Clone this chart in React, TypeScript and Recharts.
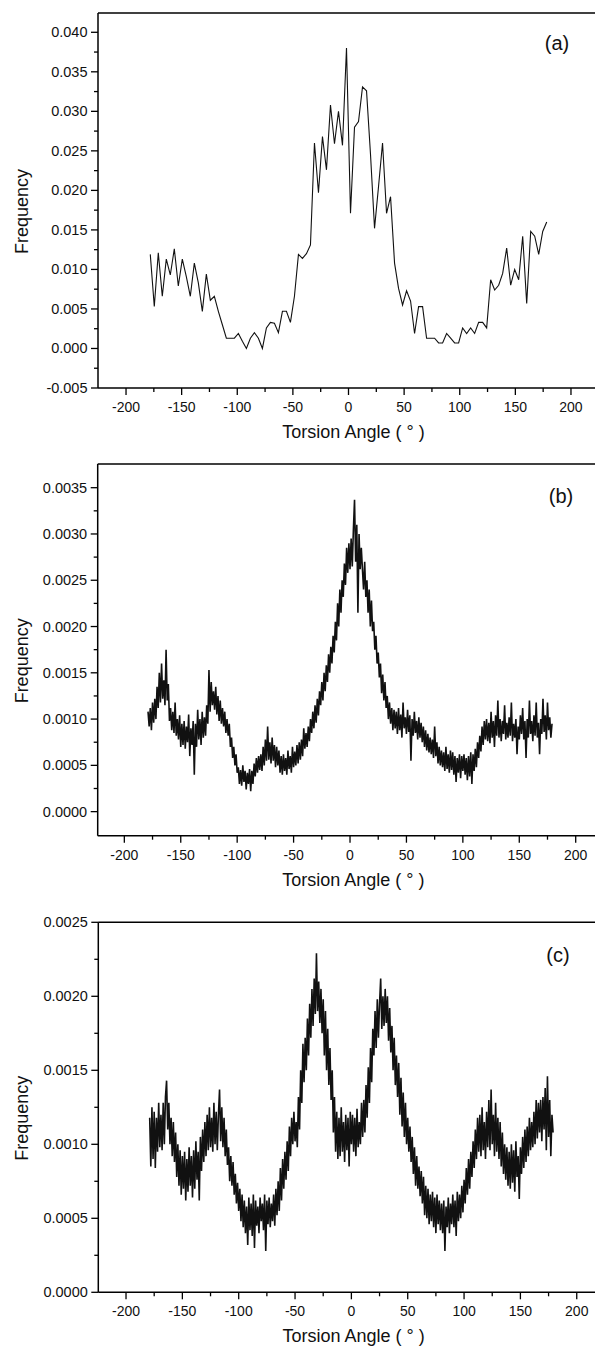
import { LineChart, Line, XAxis, YAxis, ReferenceLine, Label } from 'recharts';

const FONT = '"Liberation Sans", Arial, Helvetica, sans-serif';

// bin centres of the histograms
const bins = (start: number, count: number, step: number) =>
  Array.from({ length: count }, (_, i) => Math.round((start + i * step) * 10) / 10);

const anglesA = bins(-178.2, 100, 3.6);
const anglesBC = bins(-179, 359, 1);

// panel (a), frequency per 3.6 deg bin
const freqA = [
  0.0119, 0.0053, 0.0121, 0.0066, 0.0113, 0.0093, 0.0126, 0.0079, 0.0113, 0.0091,
  0.0066, 0.0108, 0.0083, 0.0047, 0.0094, 0.0061, 0.0066, 0.0047, 0.0030, 0.0013,
  0.0013, 0.0013, 0.0019, 0.0009, 0.0000, 0.0013, 0.0020, 0.0013, 0.0000, 0.0026,
  0.0033, 0.0032, 0.0020, 0.0047, 0.0047, 0.0033, 0.0066, 0.0119, 0.0114, 0.0120,
  0.0131, 0.0260, 0.0197, 0.0268, 0.0226, 0.0308, 0.0259, 0.0300, 0.0257, 0.0380,
  0.0171, 0.0280, 0.0287, 0.0331, 0.0326, 0.0245, 0.0152, 0.0205, 0.0260, 0.0171,
  0.0192, 0.0108, 0.0076, 0.0055, 0.0073, 0.0060, 0.0019, 0.0053, 0.0053, 0.0013,
  0.0013, 0.0013, 0.0007, 0.0007, 0.0019, 0.0013, 0.0007, 0.0007, 0.0026, 0.0019,
  0.0026, 0.0019, 0.0033, 0.0033, 0.0026, 0.0087, 0.0074, 0.0080, 0.0095, 0.0127,
  0.0080, 0.0100, 0.0087, 0.0142, 0.0057, 0.0148, 0.0142, 0.0119, 0.0148, 0.0160,
];

// panel (b), 1 deg bins, in units of 1e-5
const freqB = [
  108, 92, 112, 88, 118, 96, 122, 100, 135, 112,
  150, 118, 160, 122, 142, 115, 175, 120, 138, 98,
  112, 88, 108, 85, 118, 82, 100, 78, 104, 70,
  95, 72, 98, 68, 92, 75, 105, 60, 90, 72,
  98, 40, 95, 70, 110, 78, 100, 72, 108, 80,
  102, 82, 115, 95, 153, 108, 140, 115, 130, 110,
  135, 105, 125, 98, 120, 95, 112, 92, 108, 85,
  100, 82, 95, 70, 80, 58, 70, 50, 62, 42,
  48, 30, 45, 28, 50, 32, 44, 24, 42, 30,
  46, 22, 44, 30, 52, 38, 58, 42, 60, 45,
  62, 44, 70, 50, 78, 55, 92, 56, 75, 52,
  80, 55, 72, 48, 70, 50, 66, 42, 60, 40,
  62, 44, 58, 40, 66, 46, 60, 42, 70, 48,
  65, 50, 72, 52, 75, 56, 78, 60, 90, 68,
  85, 70, 92, 76, 100, 85, 108, 90, 115, 96,
  122, 104, 130, 115, 140, 120, 150, 130, 158, 140,
  170, 150, 178, 160, 190, 172, 205, 185, 225, 200,
  240, 215, 250, 232, 268, 245, 285, 258, 290, 262,
  295, 265, 305, 337, 270, 310, 215, 300, 262, 285,
  262, 240, 270, 232, 250, 215, 240, 200, 228, 195,
  205, 175, 190, 160, 172, 145, 160, 128, 148, 120,
  140, 112, 125, 100, 118, 95, 112, 88, 110, 90,
  108, 84, 112, 88, 105, 80, 118, 90, 102, 84,
  110, 86, 104, 55, 100, 82, 108, 85, 98, 78,
  102, 80, 96, 75, 92, 70, 88, 66, 84, 64,
  80, 62, 78, 58, 92, 60, 75, 52, 70, 50,
  66, 48, 64, 44, 70, 46, 62, 42, 66, 45,
  64, 40, 60, 32, 58, 42, 62, 36, 60, 44,
  62, 40, 58, 34, 60, 38, 64, 30, 62, 44,
  68, 48, 75, 58, 82, 65, 92, 72, 98, 78,
  100, 76, 96, 74, 108, 80, 98, 70, 104, 82,
  120, 80, 100, 76, 98, 84, 115, 78, 96, 80,
  102, 82, 118, 76, 95, 80, 100, 62, 92, 78,
  104, 84, 112, 78, 98, 58, 100, 80, 120, 84,
  98, 76, 104, 82, 118, 80, 96, 62, 100, 84,
  122, 86, 104, 78, 118, 88, 102, 80, 95,
];

// panel (c), 1 deg bins, in units of 1e-5
const freqC = [
  118, 85, 125, 90, 122, 84, 118, 95, 128, 98,
  120, 96, 128, 100, 132, 143, 110, 128, 100, 118,
  92, 115, 88, 108, 78, 100, 72, 96, 66, 92,
  70, 95, 62, 90, 68, 98, 72, 92, 64, 96,
  70, 102, 76, 95, 62, 105, 82, 110, 88, 115,
  92, 120, 96, 125, 98, 118, 95, 128, 100, 122,
  96, 120, 137, 102, 125, 98, 118, 92, 110, 86,
  98, 75, 92, 72, 88, 66, 80, 60, 74, 55,
  70, 48, 66, 44, 62, 40, 58, 32, 64, 42,
  60, 38, 66, 30, 62, 45, 58, 40, 64, 48,
  60, 42, 66, 28, 62, 46, 64, 44, 60, 48,
  66, 45, 70, 52, 75, 55, 84, 62, 90, 70,
  95, 76, 102, 82, 112, 92, 118, 100, 122, 102,
  115, 98, 132, 110, 150, 128, 168, 142, 172, 150,
  185, 160, 195, 172, 205, 180, 212, 188, 229, 190,
  210, 182, 205, 175, 198, 160, 190, 150, 178, 140,
  165, 130, 150, 108, 132, 95, 122, 90, 118, 92,
  125, 95, 115, 88, 120, 96, 118, 85, 122, 100,
  120, 95, 118, 92, 124, 98, 115, 100, 128, 105,
  130, 108, 140, 118, 152, 128, 165, 142, 178, 160,
  190, 165, 198, 172, 195, 212, 178, 200, 180, 205,
  182, 200, 170, 192, 162, 180, 150, 172, 140, 160,
  132, 155, 120, 145, 112, 135, 105, 128, 100, 118,
  95, 112, 88, 105, 80, 98, 72, 92, 70, 85,
  65, 82, 60, 78, 52, 72, 50, 70, 46, 66,
  48, 68, 44, 64, 40, 66, 46, 62, 42, 60,
  40, 62, 28, 58, 44, 64, 40, 60, 46, 66,
  44, 62, 38, 68, 48, 66, 50, 72, 54, 76,
  60, 84, 66, 90, 70, 95, 78, 102, 84, 110,
  90, 118, 95, 120, 92, 125, 96, 115, 90, 122,
  98, 130, 96, 137, 100, 120, 92, 128, 95, 118,
  90, 115, 85, 108, 80, 100, 76, 98, 72, 95,
  70, 100, 74, 96, 68, 102, 78, 92, 63, 98,
  80, 105, 84, 110, 88, 112, 92, 118, 96, 115,
  98, 122, 100, 130, 104, 128, 108, 130, 102, 132,
  110, 138, 96, 146, 105, 130, 92, 120, 108,
];

const xMajor = [-200, -150, -100, -50, 0, 50, 100, 150, 200];
const xMinor = [-175, -125, -75, -25, 25, 75, 125, 175];

const yMajorA = [-0.005, 0, 0.005, 0.01, 0.015, 0.02, 0.025, 0.03, 0.035, 0.04];
const yMinorA = [-0.0025, 0.0025, 0.0075, 0.0125, 0.0175, 0.0225, 0.0275, 0.0325, 0.0375];
const yMajorB = [0, 0.0005, 0.001, 0.0015, 0.002, 0.0025, 0.003, 0.0035];
const yMinorB = [0.00025, 0.00075, 0.00125, 0.00175, 0.00225, 0.00275, 0.00325];
const yMajorC = [0, 0.0005, 0.001, 0.0015, 0.002, 0.0025];
const yMinorC = [0.00025, 0.00075, 0.00125, 0.00175, 0.00225];

const dataA = anglesA.map((x, i) => ({ x, f: freqA[i] }));
const dataB = anglesBC.map((x, i) => ({ x, f: freqB[i] / 1e5 }));
const dataC = anglesBC.map((x, i) => ({ x, f: freqC[i] / 1e5 }));

const XTick = ({ x, y, payload }: any) => {
  const major = xMajor.includes(payload.value);
  return (
    <g>
      <line x1={x} y1={y} x2={x} y2={y + (major ? 7 : 4)} stroke="#000" strokeWidth={1.3} />
      {major && (
        <text x={x} y={y + 19} textAnchor="middle" dominantBaseline="central"
          fontSize={14} fontFamily={FONT} fill="#111">
          {payload.value}
        </text>
      )}
    </g>
  );
};

const makeYTick = (major: number[], digits: number) => ({ x, y, payload }: any) => {
  const isMajor = major.includes(payload.value);
  return (
    <g>
      <line x1={x} y1={y} x2={x - (isMajor ? 7 : 4)} y2={y} stroke="#000" strokeWidth={1.3} />
      {isMajor && (
        <text x={x - 10.5} y={y} textAnchor="end" dominantBaseline="central"
          fontSize={14.5} fontFamily={FONT} fill="#111">
          {payload.value.toFixed(digits)}
        </text>
      )}
    </g>
  );
};

interface PanelProps {
  top: number;
  height: number;
  plotTop: number;
  plotBottom: number;
  yAxisWidth: number;
  data: { x: number; f: number }[];
  xDomain: [number, number];
  yDomain: [number, number];
  yMajor: number[];
  yMinor: number[];
  digits: number;
  tag: string;
  tagX: number;
  tagY: number;
  lineWidth: number;
}

function Panel(p: PanelProps) {
  const YTick = makeYTick(p.yMajor, p.digits);
  return (
    <div style={{ position: 'absolute', left: 0, top: p.top }}>
      <LineChart width={595} height={p.height} data={p.data}
        margin={{ top: p.plotTop, right: 0, bottom: 0, left: 0 }}>
        <XAxis dataKey="x" type="number" domain={p.xDomain} allowDataOverflow
          ticks={[...xMajor, ...xMinor]} interval={0} tickSize={0} tickMargin={0}
          tick={XTick} tickLine={false} height={p.height - p.plotBottom}
          axisLine={{ stroke: '#000', strokeWidth: 1.5 }}>
          <Label content={(lp: any) => {
            const vb = lp.viewBox;
            return (
              <text x={vb.x + vb.width / 2 + 7} y={vb.y + 44} textAnchor="middle"
                dominantBaseline="central" fontSize={18} fontFamily={FONT} fill="#111">
                Torsion Angle ( ° )
              </text>
            );
          }} />
        </XAxis>
        <YAxis type="number" domain={p.yDomain} allowDataOverflow width={p.yAxisWidth}
          ticks={[...p.yMajor, ...p.yMinor]} interval={0} tickSize={0} tickMargin={0}
          tick={YTick} tickLine={false} axisLine={{ stroke: '#000', strokeWidth: 1.5 }}>
          <Label content={(lp: any) => {
            const vb = lp.viewBox;
            const cy = vb.y + vb.height / 2 + 11;
            return (
              <text x={22} y={cy} transform={`rotate(-90 22 ${cy})`} textAnchor="middle"
                dominantBaseline="central" fontSize={18} fontFamily={FONT} fill="#111">
                Frequency
              </text>
            );
          }} />
        </YAxis>
        <ReferenceLine y={p.yDomain[1]} stroke="#000" strokeWidth={1.5}
          label={() => (
            <text x={p.tagX} y={p.tagY} textAnchor="middle" dominantBaseline="central"
              fontSize={20} fontFamily={FONT} fill="#111">
              {p.tag}
            </text>
          )} />
        <Line type="linear" dataKey="f" stroke="#111" strokeWidth={p.lineWidth} dot={false}
          activeDot={false} isAnimationActive={false} />
      </LineChart>
    </div>
  );
}

export default function App() {
  return (
    <div style={{ position: 'absolute', left: 0, top: 0, width: 595, height: 1349, background: '#fff' }}>
      <Panel top={0} height={450} plotTop={13} plotBottom={388} yAxisWidth={98}
        data={dataA} xDomain={[-225.2, 221.6]} yDomain={[-0.005, 0.04244]}
        yMajor={yMajorA} yMinor={yMinorA} digits={3} tag="(a)" tagX={557} tagY={43} lineWidth={1.1} />
      <Panel top={450} height={450} plotTop={14} plotBottom={385.7} yAxisWidth={97.7}
        data={dataB} xDomain={[-223.6, 217.1]} yDomain={[-0.00026, 0.003756]}
        yMajor={yMajorB} yMinor={yMinorB} digits={4} tag="(b)" tagX={561} tagY={46} lineWidth={1.6} />
      <Panel top={900} height={449} plotTop={22.3} plotBottom={392.3} yAxisWidth={98.3}
        data={dataC} xDomain={[-224.6, 216.2]} yDomain={[0, 0.0025]}
        yMajor={yMajorC} yMinor={yMinorC} digits={4} tag="(c)" tagX={558} tagY={55} lineWidth={1.6} />
    </div>
  );
}
